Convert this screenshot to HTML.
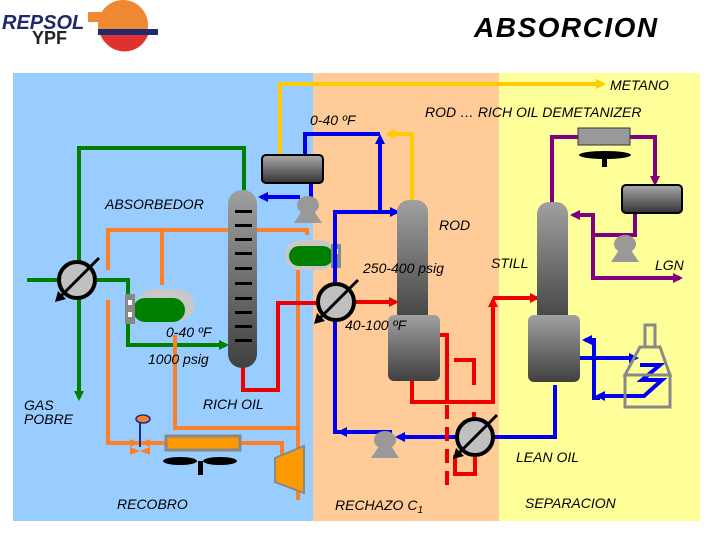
<!DOCTYPE html>
<html><head><style>
html,body{margin:0;padding:0;background:#fff;}
svg{display:block;}
text{font-family:"Liberation Sans",sans-serif;font-style:italic;fill:#000;}
</style></head><body>
<svg width="720" height="540" viewBox="0 0 720 540" xmlns="http://www.w3.org/2000/svg">
<defs>
<linearGradient id="col" x1="0" y1="0" x2="0" y2="1"><stop offset="0" stop-color="#a0a0a0"/><stop offset="1" stop-color="#404040"/></linearGradient>
<linearGradient id="drum" x1="0" y1="0" x2="0" y2="1"><stop offset="0" stop-color="#aaa"/><stop offset="1" stop-color="#333"/></linearGradient>
<marker id="ab" markerWidth="10" markerHeight="10" refX="7" refY="5" orient="auto" markerUnits="userSpaceOnUse"><path d="M0,0 L10,5 L0,10z" fill="#0000ee"/></marker>
<marker id="ag" markerWidth="10" markerHeight="10" refX="7" refY="5" orient="auto" markerUnits="userSpaceOnUse"><path d="M0,0 L10,5 L0,10z" fill="#008000"/></marker>
<marker id="ar" markerWidth="10" markerHeight="10" refX="7" refY="5" orient="auto" markerUnits="userSpaceOnUse"><path d="M0,0 L10,5 L0,10z" fill="#ee0000"/></marker>
<marker id="ay" markerWidth="10" markerHeight="10" refX="7" refY="5" orient="auto" markerUnits="userSpaceOnUse"><path d="M0,0 L10,5 L0,10z" fill="#ffcc00"/></marker>
<marker id="ap" markerWidth="10" markerHeight="10" refX="7" refY="5" orient="auto" markerUnits="userSpaceOnUse"><path d="M0,0 L10,5 L0,10z" fill="#800080"/></marker>
<g id="hx"><circle r="18" fill="#c0c0c0" stroke="#000" stroke-width="4"/><line x1="-16" y1="16" x2="22" y2="-22" stroke="#000" stroke-width="3"/><path d="M-22,22 L-19,11 L-11,19z" fill="#000"/></g>
<g id="pump"><ellipse cx="0" cy="0" rx="11" ry="9" fill="#999"/><path d="M-14,18 L14,18 L6,6 L-6,6z" fill="#999"/></g>
</defs>
<rect x="13" y="73" width="300" height="448" fill="#99ccff"/>
<rect x="313" y="73" width="186" height="448" fill="#ffcc99"/>
<rect x="499" y="73" width="201" height="448" fill="#ffff99"/>
<!-- logo -->
<text x="2" y="29" font-size="20" font-weight="bold" style="fill:#1f2a6b;font-style:italic">REPSOL</text>
<text x="32" y="44" font-size="18" font-weight="bold" style="font-style:normal;fill:#222">YPF</text>
<circle cx="123" cy="25" r="25" fill="#ee8833"/>
<rect x="88" y="12" width="35" height="10" fill="#ee8833"/>
<path d="M98,29 L158,29 L158,35 L98,35z" fill="#1f2a6b"/>
<path d="M101,35 L148,35 A25,25 0 0 1 101,35z" fill="#e03030"/>
<text x="474" y="37" font-size="28" font-weight="bold" letter-spacing="1.5">ABSORCION</text>
<!-- yellow -->
<polyline points="280,155 280,84 603,84" fill="none" stroke="#ffcc00" stroke-width="4" marker-end="url(#ay)"/>
<polyline points="412,200 412,134 388,134" fill="none" stroke="#ffcc00" stroke-width="4" marker-end="url(#ay)"/>
<!-- green -->
<polyline points="244,192 244,148 79,148 79,398" fill="none" stroke="#008000" stroke-width="4" marker-end="url(#ag)"/>
<polyline points="27,280 128,280 128,345 226,345" fill="none" stroke="#008000" stroke-width="4" marker-end="url(#ag)"/>
<!-- orange -->
<g fill="none" stroke="#ff7f27" stroke-width="4">
<polyline points="108,270 108,230 307,230 307,235"/>
<line x1="162" y1="230" x2="162" y2="285"/>
<polyline points="108,300 108,443 165,443"/>
<polyline points="175,335 175,428 298,428 298,500"/>
<line x1="298" y1="270" x2="298" y2="428"/>
<polyline points="240,443 282,443 282,458"/>
</g>
<path d="M130,447 L150,439 L150,455z M150,447 L130,439 L130,455z" fill="#ff7f27"/>
<line x1="140" y1="447" x2="140" y2="421" stroke="#1f2a8b" stroke-width="2"/>
<ellipse cx="143" cy="419" rx="7" ry="4" fill="#ff7f27" stroke="#1f2a8b" stroke-width="1.5"/>
<rect x="166" y="436" width="74" height="14" fill="#ff9900" stroke="#888" stroke-width="3"/>
<ellipse cx="180" cy="461" rx="17" ry="4" fill="#000"/><ellipse cx="220" cy="461" rx="17" ry="4" fill="#000"/>
<rect x="198" y="461" width="5" height="14" fill="#000"/>
<path d="M275,458 L304,446 L304,493 L275,482z" fill="#ff9900" stroke="#888" stroke-width="2"/>
<!-- coolers -->
<rect x="138" y="289" width="56" height="32" rx="16" fill="#c8c8c8"/>
<rect x="133" y="298" width="52" height="24" rx="12" fill="#008000"/>
<rect x="125" y="294" width="10" height="30" fill="#888"/>
<rect x="128" y="300" width="4" height="5" fill="#fff"/><rect x="128" y="312" width="4" height="5" fill="#fff"/>
<rect x="285" y="240" width="50" height="30" rx="15" fill="#c8c8c8"/>
<rect x="289" y="246" width="44" height="20" rx="10" fill="#008000"/>
<rect x="331" y="244" width="10" height="24" fill="#888"/>
<rect x="334" y="249" width="4" height="5" fill="#fff"/>
<!-- blue -->
<g fill="none" stroke="#0000ee" stroke-width="4">
<polyline points="305,157 305,134 380,134"/>
<polyline points="380,212 380,137" marker-end="url(#ab)"/>
<polyline points="335,420 335,212 397,212" marker-end="url(#ab)"/>
<polyline points="311,183 311,210"/>
<polyline points="300,197 261,197" marker-end="url(#ab)"/>
<polyline points="335,250 335,432 347,432"/>
<polyline points="392,432 340,432" marker-end="url(#ab)"/>
<polyline points="555,385 555,437 398,437" marker-end="url(#ab)"/>
<polyline points="594,360 594,340 585,340" marker-end="url(#ab)"/>
<polyline points="580,358 636,358" marker-end="url(#ab)"/>
<polyline points="594,358 594,398 600,398"/>
<polyline points="640,365 660,365 642,380 662,380 644,396 598,396" marker-end="url(#ab)"/>
</g>
<!-- furnace -->
<g fill="none" stroke="#888" stroke-width="3">
<rect x="645" y="325" width="10" height="22"/>
<path d="M640,347 L660,347 L670,375 L625,375 L640,347z"/>
<rect x="625" y="375" width="45" height="32"/>
</g>
<!-- red -->
<g fill="none" stroke="#ee0000" stroke-width="4">
<polyline points="243,368 243,390 278,390 278,303 318,303"/>
<polyline points="354,302 396,302" marker-end="url(#ar)"/>
<polyline points="412,380 412,402 493,402 493,300" marker-end="url(#ar)"/>
<polyline points="493,298 537,298" marker-end="url(#ar)"/>
<polyline points="440,335 447,335 447,402"/>
<polyline points="454,360 474,360 474,385"/>
<line x1="447" y1="405" x2="447" y2="485" stroke-dasharray="14,8"/>
<polyline points="474,412 474,428"/>
<polyline points="455,455 455,474 475,474 475,455"/>
</g>
<!-- purple -->
<g fill="none" stroke="#800080" stroke-width="4">
<polyline points="552,205 552,137 580,137"/>
<polyline points="630,137 655,137 655,183" marker-end="url(#ap)"/>
<polyline points="635,212 635,235 593,235 593,215 573,215" marker-end="url(#ap)"/>
<polyline points="593,235 593,278 680,278" marker-end="url(#ap)"/>
</g>
<rect x="578" y="128" width="52" height="17" fill="#999" stroke="#333"/>
<ellipse cx="605" cy="155" rx="26" ry="4" fill="#000"/><rect x="602" y="155" width="5" height="12" fill="#000"/>
<rect x="262" y="155" width="61" height="28" rx="4" fill="url(#drum)" stroke="#000" stroke-width="2"/>
<rect x="622" y="185" width="60" height="28" rx="4" fill="url(#drum)" stroke="#000" stroke-width="2"/>
<use href="#pump" x="308" y="205"/>
<use href="#pump" x="385" y="440"/>
<use href="#pump" x="625" y="244"/>
<rect x="228" y="190" width="29" height="178" rx="14" fill="url(#col)"/>
<g fill="#000"><rect x="235" y="210" width="17" height="3"/><rect x="235" y="224" width="17" height="3"/><rect x="235" y="238" width="17" height="3"/><rect x="235" y="252" width="17" height="3"/><rect x="235" y="267" width="17" height="3"/><rect x="235" y="282" width="17" height="3"/><rect x="235" y="297" width="17" height="3"/><rect x="235" y="311" width="17" height="3"/><rect x="235" y="325" width="17" height="3"/><rect x="235" y="339" width="17" height="3"/></g>
<rect x="397" y="200" width="31" height="125" rx="12" fill="url(#col)"/>
<rect x="388" y="315" width="52" height="66" rx="6" fill="url(#col)"/>
<rect x="537" y="202" width="31" height="125" rx="12" fill="url(#col)"/>
<rect x="528" y="315" width="52" height="67" rx="6" fill="url(#col)"/>
<use href="#hx" x="77" y="280"/>
<use href="#hx" x="336" y="302"/>
<use href="#hx" x="475" y="437"/>
<g font-size="14">
<text x="610" y="90">METANO</text>
<text x="425" y="117">ROD … RICH OIL DEMETANIZER</text>
<text x="310" y="125">0-40 ºF</text>
<text x="105" y="209">ABSORBEDOR</text>
<text x="439" y="230">ROD</text>
<text x="363" y="273">250-400 psig</text>
<text x="491" y="268">STILL</text>
<text x="655" y="270">LGN</text>
<text x="345" y="330">40-100 ºF</text>
<text x="166" y="337">0-40 ºF</text>
<text x="148" y="364">1000 psig</text>
<text x="24" y="410">GAS</text>
<text x="24" y="424">POBRE</text>
<text x="203" y="409">RICH OIL</text>
<text x="516" y="462">LEAN OIL</text>
<text x="117" y="509">RECOBRO</text>
<text x="335" y="510">RECHAZO C<tspan font-size="10" dy="3">1</tspan></text>
<text x="525" y="508">SEPARACION</text>
</g>
</svg>
</body></html>
